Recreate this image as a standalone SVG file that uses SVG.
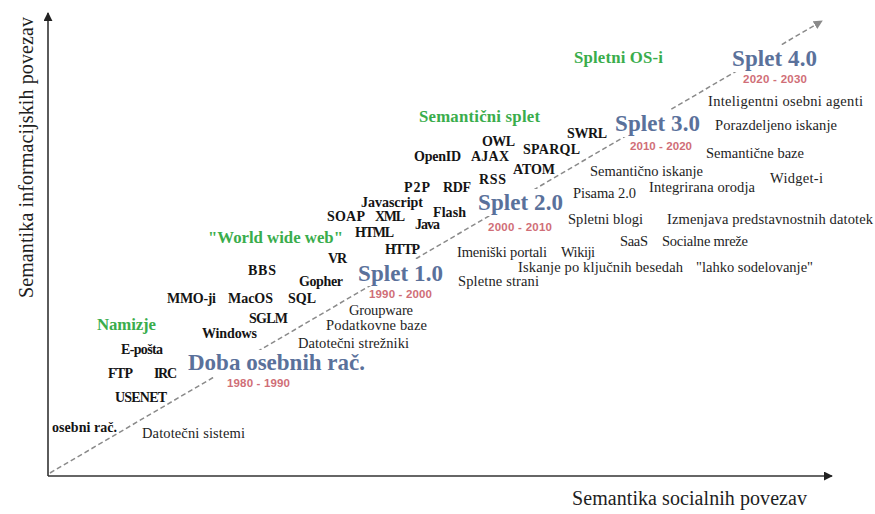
<svg xmlns="http://www.w3.org/2000/svg" width="875" height="514" viewBox="0 0 875 514">
<style>
.b{font-family:"Liberation Serif","Times New Roman",serif;font-weight:bold;font-size:14px;fill:#141414}
.r{font-family:"Liberation Serif","Times New Roman",serif;font-size:14.5px;fill:#1e1e1e}
.g{font-family:"Liberation Serif","Times New Roman",serif;font-weight:bold;font-size:16.8px;fill:#3aad4c}
.e{font-family:"Liberation Serif","Times New Roman",serif;font-weight:bold;font-size:23px;fill:#5a719b}
.y{font-family:"Liberation Sans",Arial,sans-serif;font-weight:bold;font-size:11.5px;fill:#d06e77}
.ax{font-family:"Liberation Serif","Times New Roman",serif;font-size:20px;fill:#1e1e1e}
.bg{fill:#ffffff}
</style>
<defs>
<marker id="ah" viewBox="0 0 10 10" refX="9" refY="5" markerWidth="9" markerHeight="9" markerUnits="userSpaceOnUse" orient="auto"><path d="M0,0 L10,5 L0,10 z" fill="#222"/></marker>
<marker id="ahg" viewBox="0 0 10 10" refX="9" refY="5" markerWidth="9" markerHeight="9" markerUnits="userSpaceOnUse" orient="auto"><path d="M0,0 L10,5 L0,10 z" fill="#8a8a8a"/></marker>
</defs>
<rect width="875" height="514" fill="#ffffff"/>
<g id="connectors">
<line x1="48" y1="476" x2="48" y2="13" stroke="#333" stroke-width="1.6" marker-end="url(#ah)"/>
<line x1="48" y1="476" x2="832" y2="476" stroke="#333" stroke-width="1.6" marker-end="url(#ah)"/>
<line x1="50" y1="473" x2="822" y2="21" stroke="#8a8a8a" stroke-width="1.5" stroke-dasharray="5 3" marker-end="url(#ahg)"/>
</g>
<g id="axis-y"><text class="ax" transform="translate(33,298) rotate(-90)" textLength="281">Semantika informacijskih povezav</text></g>
<g id="axis-x"><text class="ax" x="572" y="505" textLength="235">Semantika socialnih povezav</text></g>

<g id="era-pc"><rect class="bg" x="186" y="350" width="181" height="27"/><text class="e" x="188" y="370" textLength="177">Doba osebnih rač.</text><text class="y" x="227" y="387" textLength="63">1980 - 1990</text></g>
<g id="era-1"><rect class="bg" x="356" y="259" width="89" height="27"/><text class="e" x="358" y="281" textLength="85">Splet 1.0</text><text class="y" x="369" y="298" textLength="63">1990 - 2000</text></g>
<g id="era-2"><rect class="bg" x="476" y="189" width="89" height="27"/><text class="e" x="478" y="210" textLength="85">Splet 2.0</text><text class="y" x="488" y="231" textLength="64">2000 - 2010</text></g>
<g id="era-3"><rect class="bg" x="613" y="110" width="89" height="27"/><text class="e" x="615" y="131" textLength="85">Splet 3.0</text><text class="y" x="630" y="150" textLength="62">2010 - 2020</text></g>
<g id="era-4"><rect class="bg" x="730" y="45" width="89" height="27"/><text class="e" x="732" y="66" textLength="85">Splet 4.0</text><text class="y" x="743" y="83" textLength="64">2020 - 2030</text></g>

<g id="cat-namizje"><text class="g" x="97" y="330" textLength="59">Namizje</text></g>
<g id="cat-www"><text class="g" x="208" y="243" textLength="135">"World wide web"</text></g>
<g id="cat-semsplet"><text class="g" x="419" y="122" textLength="121">Semantični splet</text></g>
<g id="cat-os"><text class="g" x="574" y="63" textLength="89">Spletni OS-i</text></g>

<g id="n-osebni"><text class="b" x="52" y="432" textLength="65">osebni rač.</text></g>
<g id="n-usenet"><text class="b" x="115" y="402" textLength="52">USENET</text></g>
<g id="n-ftp"><text class="b" x="108" y="378" textLength="25">FTP</text></g>
<g id="n-irc"><text class="b" x="154" y="378" textLength="23">IRC</text></g>
<g id="n-eposta"><text class="b" x="121" y="354" textLength="42">E-pošta</text></g>
<g id="n-windows"><text class="b" x="202" y="338" textLength="55">Windows</text></g>
<g id="n-sglm"><text class="b" x="249" y="323" textLength="39">SGLM</text></g>
<g id="n-mmo"><text class="b" x="167" y="303" textLength="49">MMO-ji</text></g>
<g id="n-macos"><text class="b" x="228" y="303" textLength="45">MacOS</text></g>
<g id="n-sql"><text class="b" x="288" y="303" textLength="28">SQL</text></g>
<g id="n-bbs"><text class="b" x="248" y="275" textLength="28">BBS</text></g>
<g id="n-gopher"><text class="b" x="299" y="286" textLength="44">Gopher</text></g>
<g id="n-vr"><text class="b" x="328" y="263" textLength="19">VR</text></g>
<g id="n-html"><text class="b" x="355" y="237" textLength="39">HTML</text></g>
<g id="n-soap"><text class="b" x="327" y="221" textLength="38">SOAP</text></g>
<g id="n-xml"><text class="b" x="375" y="221" textLength="30">XML</text></g>
<g id="n-javascript"><text class="b" x="361" y="207" textLength="62">Javascript</text></g>
<g id="n-java"><text class="b" x="415" y="229" textLength="25">Java</text></g>
<g id="n-http"><text class="b" x="385" y="254" textLength="35">HTTP</text></g>
<g id="n-p2p"><text class="b" x="404" y="192" textLength="26">P2P</text></g>
<g id="n-rdf"><text class="b" x="443" y="192" textLength="28">RDF</text></g>
<g id="n-flash"><text class="b" x="433" y="217" textLength="33">Flash</text></g>
<g id="n-openid"><text class="b" x="414" y="161" textLength="47">OpenID</text></g>
<g id="n-ajax"><text class="b" x="471" y="161" textLength="38">AJAX</text></g>
<g id="n-owl"><text class="b" x="482" y="146" textLength="33">OWL</text></g>
<g id="n-sparql"><text class="b" x="523" y="154" textLength="57">SPARQL</text></g>
<g id="n-swrl"><text class="b" x="567" y="138" textLength="40">SWRL</text></g>
<g id="n-atom"><text class="b" x="513" y="174" textLength="42">ATOM</text></g>
<g id="n-rss"><text class="b" x="479" y="184" textLength="27">RSS</text></g>

<g id="n-datsis"><text class="r" x="142" y="438" textLength="103">Datotečni sistemi</text></g>
<g id="n-groupware"><text class="r" x="349" y="315" textLength="64">Groupware</text></g>
<g id="n-podbaze"><text class="r" x="326" y="330" textLength="101">Podatkovne baze</text></g>
<g id="n-datstr"><text class="r" x="298" y="348" textLength="111">Datotečni strežniki</text></g>
<g id="n-pisama"><text class="r" x="573" y="198" textLength="63">Pisama 2.0</text></g>
<g id="n-semisk"><text class="r" x="590" y="176" textLength="113">Semantično iskanje</text></g>
<g id="n-integ"><text class="r" x="649" y="192" textLength="106">Integrirana orodja</text></g>
<g id="n-widget"><text class="r" x="770" y="183" textLength="53">Widget-i</text></g>
<g id="n-blogi"><text class="r" x="568" y="224" textLength="75">Spletni blogi</text></g>
<g id="n-izmenjava"><text class="r" x="667" y="224" textLength="206">Izmenjava predstavnostnih datotek</text></g>
<g id="n-saas"><text class="r" x="620" y="246" textLength="28">SaaS</text></g>
<g id="n-socialne"><text class="r" x="662" y="246" textLength="86">Socialne mreže</text></g>
<g id="n-imeniski"><text class="r" x="457" y="257" textLength="90">Imeniški portali</text></g>
<g id="n-wikiji"><text class="r" x="561" y="257" textLength="34">Wikiji</text></g>
<g id="n-iskanje"><text class="r" x="518" y="272" textLength="165">Iskanje po ključnih besedah</text></g>
<g id="n-lahko"><text class="r" x="696" y="272" textLength="117">"lahko sodelovanje"</text></g>
<g id="n-strani"><text class="r" x="458" y="286" textLength="81">Spletne strani</text></g>
<g id="n-agenti"><text class="r" x="708" y="106" textLength="155">Inteligentni osebni agenti</text></g>
<g id="n-porazd"><text class="r" x="715" y="130" textLength="122">Porazdeljeno iskanje</text></g>
<g id="n-sembaze"><text class="r" x="706" y="158" textLength="98">Semantične baze</text></g>
</svg>
